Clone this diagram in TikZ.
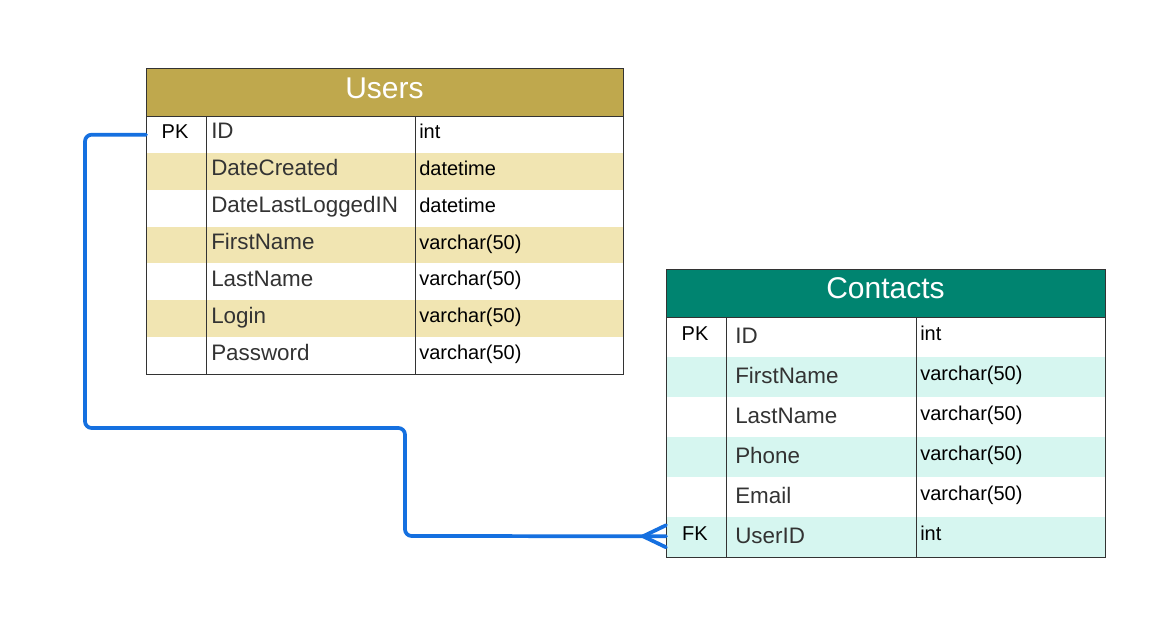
\documentclass[tikz,border=0pt]{standalone}
\usepackage{fontspec}
\setmainfont{Liberation Sans}
\usetikzlibrary{calc}
\definecolor{ugold}{HTML}{BFA84D}
\definecolor{ulight}{HTML}{F1E5B2}
\definecolor{cteal}{HTML}{008470}
\definecolor{clight}{HTML}{D6F6F0}
\definecolor{edgec}{HTML}{333333}
\definecolor{fieldc}{HTML}{333333}
\definecolor{linkblue}{HTML}{1570E0}
\tikzset{
  tblline/.style={draw=edgec, line width=0.75pt},
  titletext/.style={text=white, font=\fontsize{22.5pt}{26pt}\selectfont, inner sep=0pt},
  fieldU/.style={text=fieldc, font=\fontsize{16.8pt}{19pt}\selectfont, inner sep=0pt, anchor=base west},
  typeU/.style={text=black, font=\fontsize{15pt}{18pt}\selectfont, inner sep=0pt, anchor=base west},
  keyU/.style={text=black, font=\fontsize{15pt}{18pt}\selectfont, inner sep=0pt, anchor=base},
  cellbox/.style={draw=none, inner sep=0pt, minimum width=60*0.75pt, anchor=north west},
  link/.style={draw=linkblue, line width=2.8pt, line join=round, line cap=round},
}
\begin{document}
\begin{tikzpicture}[x=0.75pt,y=-0.75pt]
\path[use as bounding box, fill=white] (0,0) rectangle (1166,617);

% ---------------- Users ----------------
\fill[ugold] (146,69) rectangle (623,116);
\foreach \i in {1,3,5}
  \fill[ulight] (146,{116+\i*36.857}) rectangle (623,{116+(\i+1)*36.857});
\draw[tblline] (146,69) rectangle (623,374);
\draw[tblline] (146,116) -- (623,116);
\draw[tblline] (206,116) -- (206,374);
\draw[tblline] (415,116) -- (415,374);
\node[titletext] (users) at (384.5,88) {Users};
\foreach \n/\t [count=\i from 0] in {ID/int, DateCreated/datetime, DateLastLoggedIN/datetime, FirstName/varchar(50), LastName/varchar(50), Login/varchar(50), Password/varchar(50)} {
  \node[fieldU] (uf\i) at (211,{116+(\i+0.5)*36.857+4.5}) {\n};
  \node[typeU] (ut\i) at (419,{116+(\i+0.5)*36.857+4}) {\t};
}
\node[keyU] (upk) at (175,138) {PK};
\node[cellbox, minimum height=36.857*0.75pt] (upkcell) at (146,116) {};

% ---------------- Contacts ----------------
\fill[cteal] (666,269) rectangle (1105,317);
\foreach \i in {1,3,5}
  \fill[clight] (666,{317+\i*40}) rectangle (1105,{317+(\i+1)*40});
\draw[tblline] (666,269) rectangle (1105,557);
\draw[tblline] (666,317) -- (1105,317);
\draw[tblline] (726,317) -- (726,557);
\draw[tblline] (916,317) -- (916,557);
\node[titletext] (contacts) at (885.5,288) {Contacts};
\foreach \n/\t [count=\i from 0] in {ID/int, FirstName/varchar(50), LastName/varchar(50), Phone/varchar(50), Email/varchar(50), UserID/int} {
  \node[fieldU] (cf\i) at (735,{317+(\i+0.5)*40+6}) {\n};
  \node[typeU] (ct\i) at (920,{317+(\i+0.5)*40+3}) {\t};
}
\node[keyU] (cpk) at (695,340) {PK};
\node[keyU] (cfk) at (695,540) {FK};
\node[cellbox, minimum height=40*0.75pt] (cfkcell) at (666,516) {};

% ---------------- Connector ----------------
\coordinate (bend1) at (85,428);
\coordinate (bend2) at (405,536);
\draw[link, rounded corners=5pt] (upkcell.west) -| (bend1) -| (bend2) -- (cfkcell.west);
\draw[link] ($(cfkcell.west)+(0,-11)$) -- ($(cfkcell.west)+(-23,0)$) -- ($(cfkcell.west)+(0,11)$);
\end{tikzpicture}
\end{document}
